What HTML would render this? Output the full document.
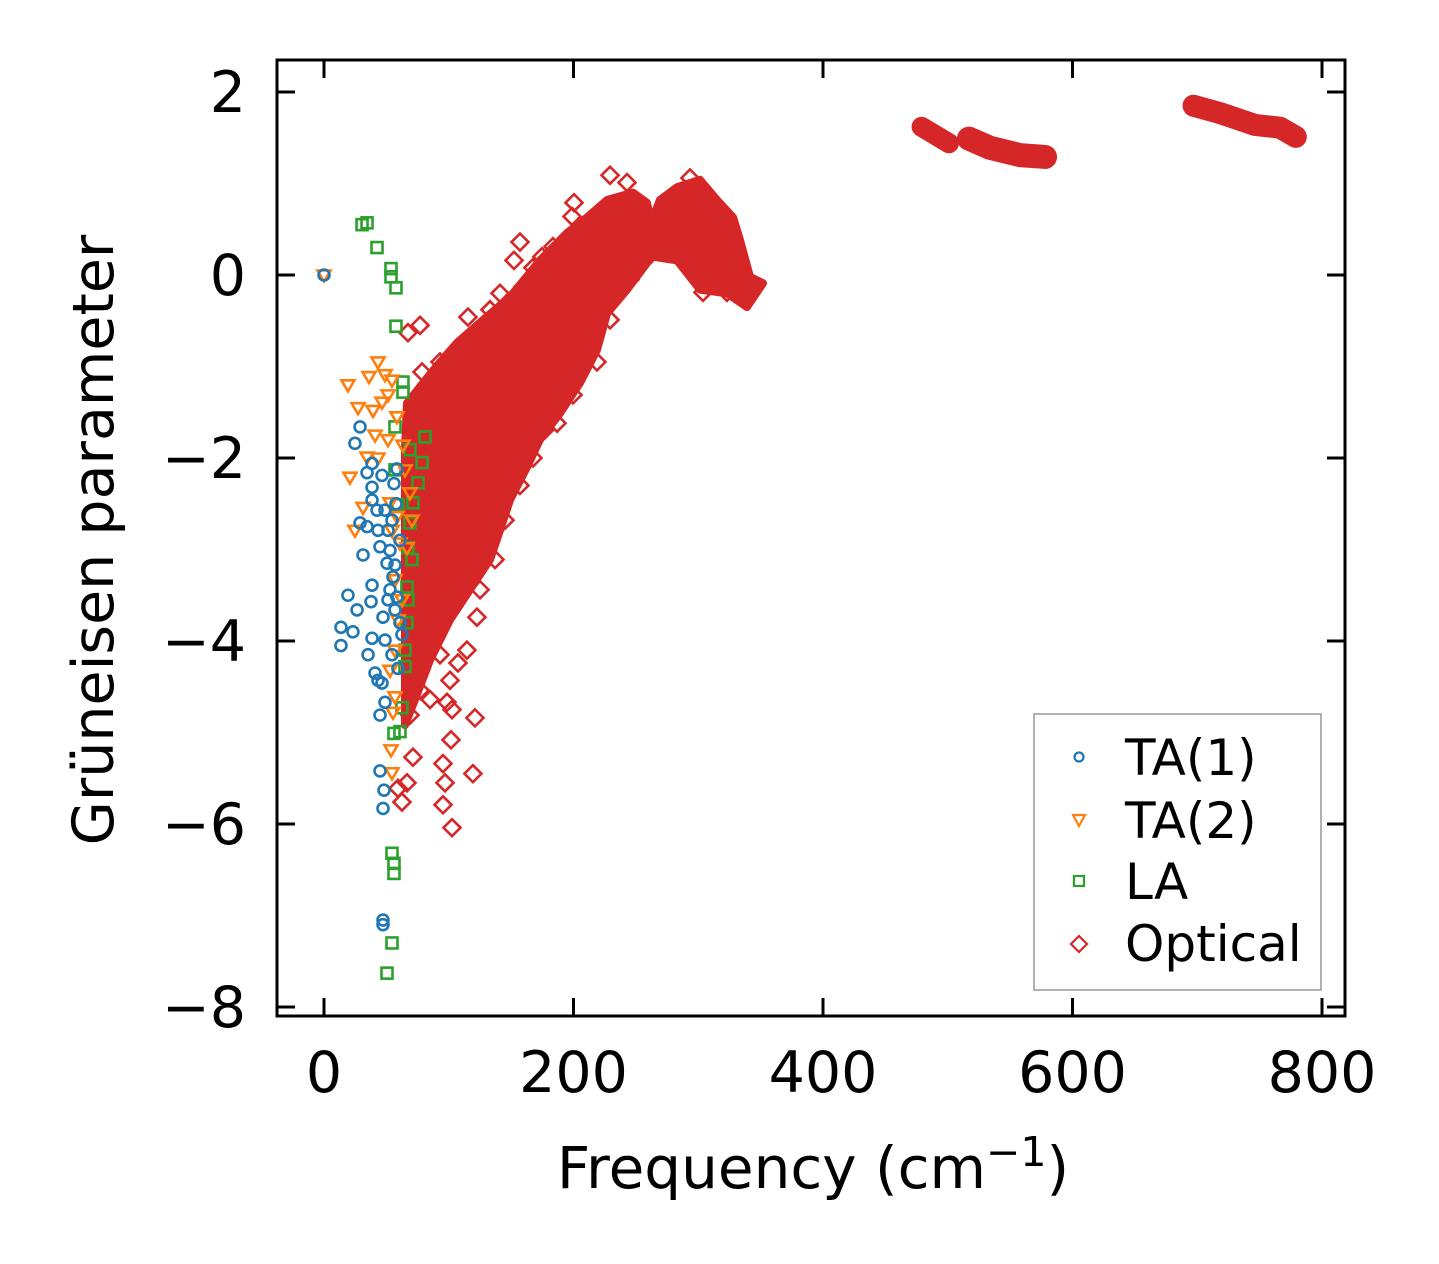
<!DOCTYPE html>
<html><head><meta charset="utf-8"><style>
html,body{margin:0;padding:0;background:#fff;}
svg{display:block;font-family:"DejaVu Sans","Liberation Sans",sans-serif;}
</style></head><body>
<svg id="chart" width="1439" height="1264" viewBox="0 0 1439 1264">
<rect x="0" y="0" width="1439" height="1264" fill="#fff"/>
<g id="marks"></g>
<g id="axes"></g>
<g id="legend">
<rect x="1034" y="714" width="287" height="276" fill="#fff" stroke="#999" stroke-width="1.5"/>
<circle cx="1079" cy="757" r="4.5" fill="none" stroke="#1f77b4" stroke-width="2.2"/>
<text x="1125" y="775" font-size="50">TA(1)</text>
<path d="M1073,815 L1085,815 L1079,826 Z" fill="none" stroke="#ff7f0e" stroke-width="2.2"/>
<text x="1125" y="838" font-size="50">TA(2)</text>
<rect x="1074" y="876" width="10" height="10" fill="none" stroke="#2ca02c" stroke-width="2.2"/>
<text x="1125" y="899" font-size="50">LA</text>
<path d="M1079,936 L1087,944 L1079,952 L1071,944 Z" fill="none" stroke="#d62728" stroke-width="2.2"/>
<text x="1125" y="961" font-size="50">Optical</text>
</g>
</svg>
<script>
const xTicks=[0,200,400,600,800];
const yTicks=[2,0,-2,-4,-6,-8];
const yTickLabels=["2","0","\u22122","\u22124","\u22126","\u22128"];
const ta1Freq=[0,28.9,24.8,38.5,34.5,46.5,58.5,56.1,38.5,38.5,57.7,42.5,28.9,34.5,43.3,31.3,44.9,52.9,38.5,19.2,50.5,55.3,58.5,60.9,47.3,37.7,26.5,13.6,23.2,13.6,38.5,35.3,40.9,46.5,59.3,48.9,44.9,44.9,48.1,47.3,47.3,47.3,52.9,56.9,48.9,54.5,43.3,51.3,60.9,48.9,54.5,56.9,51.3,62.5];
const ta1Gamma=[0,-1.66,-1.84,-2.06,-2.16,-2.19,-2.12,-2.28,-2.32,-2.46,-2.50,-2.57,-2.71,-2.75,-2.79,-3.06,-2.97,-3.01,-3.39,-3.50,-3.15,-3.30,-3.52,-3.80,-3.74,-3.57,-3.66,-3.85,-3.90,-4.05,-3.97,-4.15,-4.35,-4.46,-4.30,-4.67,-4.81,-5.42,-5.63,-5.83,-7.05,-7.10,-3.44,-3.66,-3.99,-4.15,-4.43,-2.79,-2.90,-2.57,-2.68,-3.17,-3.55,-3.93];
const ta2Freq=[0,43.3,19.2,36.1,48.9,54.5,51.3,46.5,27.3,39.3,58.5,40.9,51.3,63.3,34.5,43.3,20.8,68.9,31.3,24.8,52.9,58.5,70.5,60.9,66.5,54.5,56.9,52.9,56.9,55.3,53.7,54.5,56.9,62.5,59.3,64.9];
const ta2Gamma=[0,-0.95,-1.20,-1.11,-1.09,-1.15,-1.31,-1.39,-1.45,-1.48,-1.55,-1.75,-1.80,-1.86,-1.99,-2.00,-2.21,-2.38,-2.54,-2.79,-2.49,-2.64,-2.68,-2.93,-2.98,-2.79,-4.10,-4.32,-4.61,-4.78,-5.19,-5.44,-3.33,-3.55,-3.77,-2.13];
const laFreq=[30.5,34.5,42.5,53.7,53.7,57.7,57.7,63.3,63.3,56.9,81.0,78.6,75.4,71.3,68.9,67.3,66.5,66.5,64.9,64.9,62.5,60.9,56.1,54.5,56.1,56.1,54.5,50.5,59.3,56.9,68.9,70.5,67.3];
const laGamma=[0.55,0.57,0.30,0.07,-0.02,-0.14,-0.56,-1.17,-1.28,-1.66,-1.77,-2.05,-2.27,-2.49,-2.71,-2.98,-3.41,-3.80,-4.10,-4.28,-4.73,-4.99,-5.01,-6.32,-6.43,-6.54,-7.30,-7.63,-2.51,-2.13,-1.91,-3.11,-3.55];
const optFreq=[229.3,242.9,200.4,198.8,157.1,152.3,174.7,167.5,183.6,141.1,159.5,115.4,133.1,78.6,93.0,77.0,67.3,293.4,279.0,303.8,323.0,218.8,199.6,186.8,167.5,98.6,102.6,121.0,101.8,95.4,97.0,119.4,95.4,102.6,62.5,66.5,59.3,93.0,107.4,122.6,90.6,114.6,71.3,125.1,137.1,145.1,157.1,177.2,189.2,209.2,229.3,245.3,77.0,85.0,68.9,101.0,77.0];
const optGamma=[1.09,1.01,0.79,0.64,0.36,0.16,0.20,0.08,0.31,-0.20,-0.13,-0.46,-0.38,-1.06,-0.95,-0.55,-0.63,1.06,0.25,-0.19,-0.19,-0.95,-1.31,-1.62,-2.00,-4.67,-4.75,-4.84,-5.08,-5.34,-5.55,-5.45,-5.79,-6.04,-5.76,-5.55,-5.61,-4.15,-4.24,-3.74,-3.77,-4.10,-5.27,-3.44,-3.11,-2.68,-2.30,-1.69,-1.37,-0.93,-0.49,-0.05,-4.54,-4.64,-4.81,-4.43,-3.99];
// dense optical region outline (data units)
const bandFreq=[66.5,90.0,106.6,127.5,149.1,173.1,194.8,210.8,226.9,247.7,258.9,261.3,258.9,269.3,283.0,301.4,315.0,327.9,333.5,341.5,351.9,339.1,323.0,301.4,283.0,263.7,258.9,242.9,226.9,218.8,205.2,189.2,173.1,162.7,149.1,141.1,133.1,117.0,101.0,85.0,72.9,64.9,64.9,64.9];
const bandGamma=[-1.40,-1.00,-0.74,-0.49,-0.24,0.16,0.46,0.63,0.82,0.90,0.79,0.63,0.46,0.82,0.96,1.04,0.82,0.63,0.38,-0.02,-0.09,-0.35,-0.20,-0.16,0.16,0.20,0.13,-0.16,-0.42,-0.82,-1.18,-1.51,-1.80,-2.10,-2.46,-2.79,-3.11,-3.44,-3.77,-4.21,-4.64,-4.92,-3.55,-1.91];
const hi1Freq=[479.0,501.0];
const hi1Gamma=[1.62,1.44];
const hi2Freq=[517.0,533.9,557.9,578.0];
const hi2Gamma=[1.49,1.39,1.31,1.29];
const hi3Freq=[697.0,718.2,746.3,766.3,779.0];
const hi3Gamma=[1.85,1.77,1.64,1.61,1.51];

const NS="http://www.w3.org/2000/svg";
const X=f=>324+f*1.2475;
const Y=g=>275-g*91.5;
const marks=document.getElementById('marks');
const axes=document.getElementById('axes');
function mk(tag,attrs,parent){const e=document.createElementNS(NS,tag);for(const k in attrs)e.setAttribute(k,attrs[k]);parent.appendChild(e);return e;}

let pts=bandFreq.map((f,i)=>X(f)+','+Y(bandGamma[i])).join(' ');
let band=mk('polygon',{points:pts,fill:'#d62728',stroke:'#d62728','stroke-width':8,'stroke-linejoin':'round'},marks);


[[hi1Freq,hi1Gamma,20,'optical-band-480'],[hi2Freq,hi2Gamma,24,'optical-band-550'],[hi3Freq,hi3Gamma,22,'optical-band-740']].forEach(([fa,ga,w,n])=>{
  const p=mk('polyline',{points:fa.map((f,i)=>X(f)+','+Y(ga[i])).join(' '),fill:'none',stroke:'#d62728','stroke-width':w,'stroke-linejoin':'round','stroke-linecap':'round'},marks);
  
  
});
optFreq.forEach((f,i)=>{const x=X(f),y=Y(optGamma[i]);
  const d=mk('path',{d:`M${x},${y-8.5} L${x+8.5},${y} L${x},${y+8.5} L${x-8.5},${y} Z`,fill:'none',stroke:'#d62728','stroke-width':2.6},marks);
  
  
});
laFreq.forEach((f,i)=>{const x=X(f),y=Y(laGamma[i]);
  const d=mk('rect',{x:x-5.5,y:y-5.5,width:11,height:11,fill:'none',stroke:'#2ca02c','stroke-width':2.6},marks);
  
  
});
ta2Freq.forEach((f,i)=>{const x=X(f),y=Y(ta2Gamma[i]);
  const d=mk('path',{d:`M${x-6.5},${y-4.5} L${x+6.5},${y-4.5} L${x},${y+6.5} Z`,fill:'none',stroke:'#ff7f0e','stroke-width':2.6},marks);
  
  
});
ta1Freq.forEach((f,i)=>{const x=X(f),y=Y(ta1Gamma[i]);
  const d=mk('circle',{cx:x,cy:y,r:5.5,fill:'none',stroke:'#1f77b4','stroke-width':2.6},marks);
  
  
});

const frame=mk('rect',{x:277,y:60,width:1068,height:956,fill:'none',stroke:'#000','stroke-width':3},axes);


xTicks.forEach(t=>{const x=X(t);
  const a=mk('line',{x1:x,y1:1016,x2:x,y2:998,stroke:'#000','stroke-width':3},axes);
  
  
  const b=mk('line',{x1:x,y1:60,x2:x,y2:78,stroke:'#000','stroke-width':3},axes);
  
  
  const l=mk('text',{x:x,y:1092,'font-size':57,'text-anchor':'middle'},axes);
  l.textContent=String(t);
  
  
});
yTicks.forEach((t,i)=>{const y=Y(t);
  const a=mk('line',{x1:277,y1:y,x2:295,y2:y,stroke:'#000','stroke-width':3},axes);
  
  
  const b=mk('line',{x1:1345,y1:y,x2:1327,y2:y,stroke:'#000','stroke-width':3},axes);
  
  
  const l=mk('text',{x:246,y:y+20,'font-size':57,'text-anchor':'end'},axes);
  l.textContent=yTickLabels[i];
  
  
});
const xl=mk('text',{x:813,y:1188,'font-size':58,'text-anchor':'middle'},axes);
xl.innerHTML='Frequency (cm<tspan dy="-22" font-size="41">\u22121</tspan><tspan dy="22">)</tspan>';


const yl=mk('text',{x:0,y:0,'font-size':57,'text-anchor':'middle',transform:'translate(113,540) rotate(-90)'},axes);
yl.textContent='Grüneisen parameter';


</script>
</body></html>
